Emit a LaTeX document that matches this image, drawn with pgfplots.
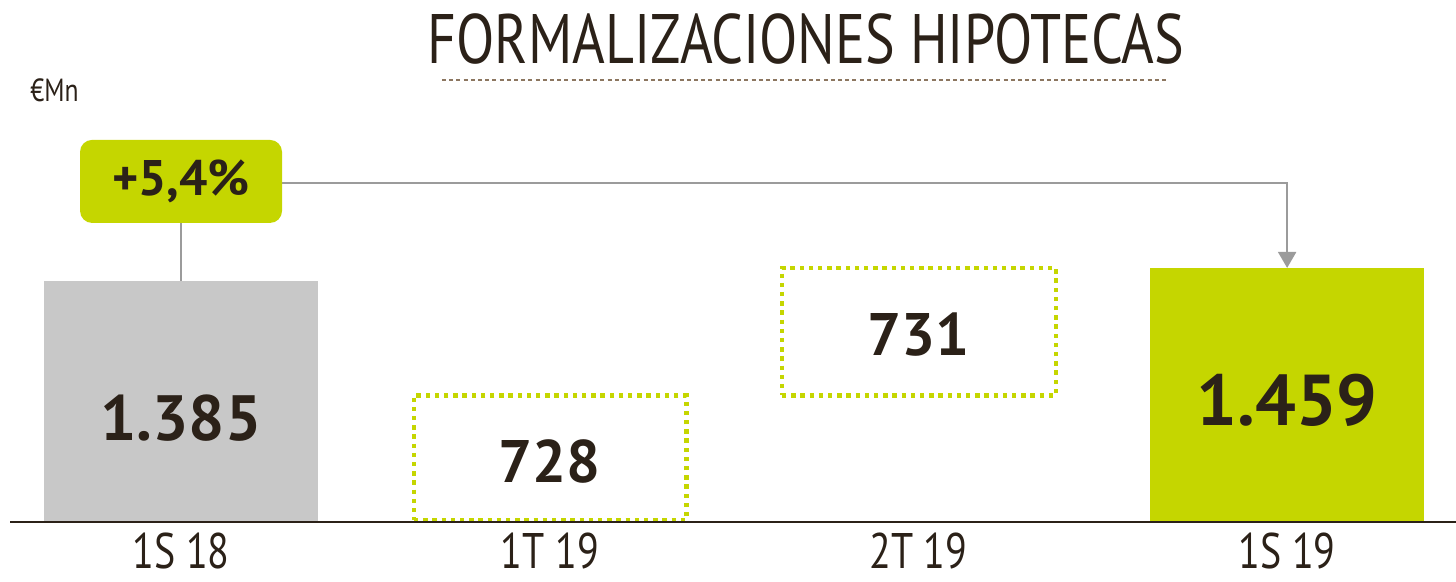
\documentclass[border=0pt]{standalone}
\usepackage{pgfplots}
\pgfplotsset{compat=1.18}
\usepackage{fontspec}
\setmainfont{PT Sans}
\newfontfamily\cond[FakeStretch=0.80]{PT Sans}
\newfontfamily\wide[FakeStretch=1.0]{PT Sans}
\usetikzlibrary{arrows.meta}
\definecolor{lime}{RGB}{197,214,0}
\definecolor{barg}{RGB}{200,200,200}
\definecolor{ink}{RGB}{43,33,24}
\definecolor{conn}{RGB}{155,155,155}
\definecolor{ruleclr}{RGB}{140,118,96}

\begin{document}
\begin{tikzpicture}
\begin{axis}[
    name=ax,
    scale only axis,
    width=728pt, height=290.5pt,
    xmin=-0.491, xmax=3.458,
    ymin=-339, ymax=2998,
    axis lines=none,
    clip=false,
]
% bars: 1S 18 and 1S 19
\addplot[ybar, bar width=0.743, fill=barg, draw=none] coordinates {(0,1385)};
\addplot[ybar, bar width=0.743, fill=lime, draw=none] coordinates {(3,1459)};
% dotted boxes: 1T 19 (0 to 728) and 2T 19 (728 to 1459)
\addplot[lime, line width=2.4pt, dash pattern=on 2.2pt off 2.4pt, mark=none]
    coordinates {(0.632,10) (1.370,10) (1.370,728) (0.632,728) (0.632,10)};
\addplot[lime, line width=2.4pt, dash pattern=on 2.2pt off 2.4pt, mark=none]
    coordinates {(1.630,728) (2.373,728) (2.373,1459) (1.630,1459) (1.630,728)};

% baseline
\draw[ink, line width=1.4pt] (axis cs:-0.4638,0) -- (axis cs:3.458,0);

% connectors
\draw[conn, line width=1pt] (axis cs:0,1717) -- (axis cs:0,1385);
\draw[conn, line width=1pt, -{Triangle[length=8pt,width=9pt]}]
    (axis cs:0.27,1947) -- (axis cs:3,1947) -- (axis cs:3,1459);
\node[fill=lime, rounded corners=6pt, minimum width=101pt, minimum height=41.5pt,
      inner sep=0pt, text=ink, font=\wide\bfseries\fontsize{25}{25}\selectfont]
    at (axis cs:0,1956) {+5,4\%};

% value labels
\node[text=ink, font=\wide\bfseries\fontsize{32}{32}\selectfont] at (axis cs:0,597) {1.385};
\node[text=ink, font=\wide\bfseries\fontsize{30}{30}\selectfont] at (axis cs:1,350) {728};
\node[text=ink, font=\wide\bfseries\fontsize{30}{30}\selectfont] at (axis cs:2,1074) {731};
\node[text=ink, font=\wide\bfseries\fontsize{36}{36}\selectfont] at (axis cs:3,701) {1.459};

% category labels
\node[anchor=base, inner sep=0pt, text=ink, font=\cond\fontsize{25}{25}\selectfont] at (axis cs:0,-268) {1S 18};
\node[anchor=base, inner sep=0pt, text=ink, font=\cond\fontsize{25}{25}\selectfont] at (axis cs:1,-268) {1T 19};
\node[anchor=base, inner sep=0pt, text=ink, font=\cond\fontsize{25}{25}\selectfont] at (axis cs:2,-268) {2T 19};
\node[anchor=base, inner sep=0pt, text=ink, font=\cond\fontsize{25}{25}\selectfont] at (axis cs:3,-268) {1S 19};

% title and unit
\node[text=ink, font=\cond\fontsize{35}{35}\selectfont] at (axis cs:1.695,2775) {FORMALIZACIONES HIPOTECAS};
\draw[ruleclr, line width=1.2pt, dash pattern=on 2pt off 1.6pt] (axis cs:0.708,2539) -- (axis cs:2.677,2539);
\node[anchor=west, inner sep=0pt, text=ink, font=\cond\fontsize{16}{16}\selectfont] at (axis cs:-0.4095,2481) {€Mn};
\end{axis}
\pgfresetboundingbox
\useasboundingbox (ax.south west) rectangle (ax.north east);
\end{tikzpicture}
\end{document}
